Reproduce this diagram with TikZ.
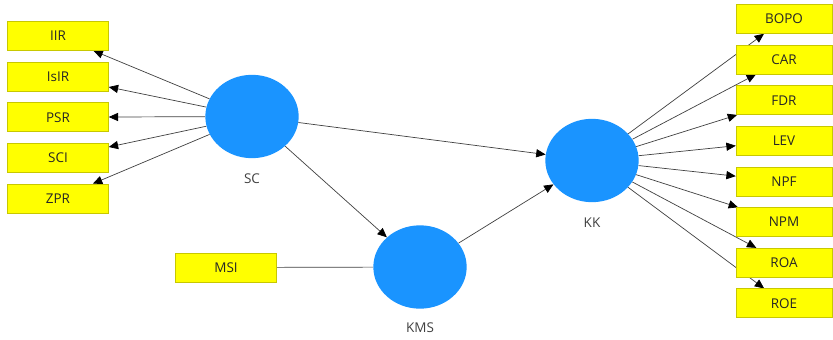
\documentclass[tikz,border=0pt]{standalone}
\usepackage{fontspec}
\setmainfont{Open Sans}
\usepackage{tikz}
\usetikzlibrary{shapes.geometric,arrows.meta}
\usetikzlibrary{positioning}
\usetikzlibrary{backgrounds}
\usepackage{xcolor}

\definecolor{indyellow}{HTML}{FFFF00}
\definecolor{indedge}{HTML}{C8C800}
\definecolor{latblue}{HTML}{1A94FF}

\begin{document}
\begin{tikzpicture}[x=0.03cm,y=-0.03cm,
  every node/.style={font=\fontsize{11.5}{13}\selectfont},
  ind/.style={draw=indedge,fill=indyellow,rectangle,inner sep=0,
    minimum width=3.03cm,minimum height=0.87cm,text=black!85},
  lat/.style={fill=latblue,ellipse,inner sep=0,
    minimum width=2.8cm,minimum height=2.5cm},
  latname/.style={text=black!75},
  edge/.style={draw=black!75,line width=0.6pt},
  arr/.style={edge,-{Triangle[length=8pt,width=7pt,black]}}]

  \useasboundingbox (0,0) rectangle (833,340);

  \def \xl {58}
  \def \xr {784}

  % latent variables
  \node[lat] (SC)  at (252,116.5) {};
  \node[lat] (KK)  at (592,160.5) {};
  \node[lat] (KMS) at (420,267)   {};
  \node[latname] (SCt)  at (252,179) {SC};
  \node[latname] (KKt)  at (592,223) {KK};
  \node[latname] (KMSt) at (420,328) {KMS};

  % SC indicators
  \node[ind] (IIR)  at (\xl,36)    {IIR};
  \node[ind] (IsIR) at (\xl,76.6)  {IsIR};
  \node[ind] (PSR)  at (\xl,117.2) {PSR};
  \node[ind] (SCI)  at (\xl,157.8) {SCI};
  \node[ind] (ZPR)  at (\xl,198.4) {ZPR};

  % KMS indicator
  \node[ind] (MSI)  at (226,267.5) {MSI};

  % KK indicators
  \node[ind,minimum width=2.88cm] (BOPO) at (\xr,19)    {BOPO};
  \node[ind,minimum width=2.88cm] (CAR)  at (\xr,59.6)  {CAR};
  \node[ind,minimum width=2.88cm] (FDR)  at (\xr,100.2) {FDR};
  \node[ind,minimum width=2.88cm] (LEV)  at (\xr,140.8) {LEV};
  \node[ind,minimum width=2.88cm] (NPF)  at (\xr,181.4) {NPF};
  \node[ind,minimum width=2.88cm] (NPM)  at (\xr,222)   {NPM};
  \node[ind,minimum width=2.88cm] (ROA)  at (\xr,262.6) {ROA};
  \node[ind,minimum width=2.88cm] (ROE)  at (\xr,303.2) {ROE};

  \begin{scope}[on background layer]
    % outer model SC
    \draw[arr] (SC) -- (IIR);
    \draw[arr] (SC) -- (IsIR);
    \draw[arr] (SC) -- (PSR);
    \draw[arr] (SC) -- (SCI);
    \draw[arr] (SC) -- (ZPR);

    % outer model KMS
    \draw[edge] (MSI) -- (KMS);

    % outer model KK
    \draw[arr] (KK) -- (BOPO);
    \draw[arr] (KK) -- (CAR);
    \draw[arr] (KK) -- (FDR);
    \draw[arr] (KK) -- (LEV);
    \draw[arr] (KK) -- (NPF);
    \draw[arr] (KK) -- (NPM);
    \draw[arr] (KK) -- (ROA);
    \draw[arr] (KK) -- (ROE);

    % inner model
    \draw[arr] (SC) -- (KK);
    \draw[arr] (SC) -- (KMS);
    \draw[arr] (KMS) -- (KK);
  \end{scope}

\end{tikzpicture}
\end{document}
